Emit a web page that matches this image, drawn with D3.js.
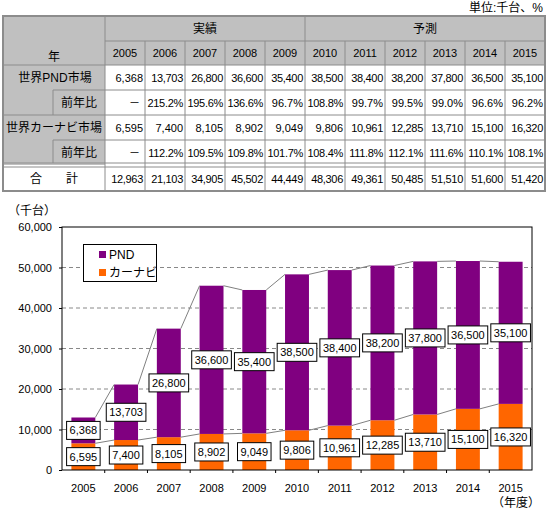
<!DOCTYPE html>
<html>
<head>
<meta charset="utf-8">
<script src="https://cdn.jsdelivr.net/npm/d3@7"></script>
<style>
  body { margin: 0; background: #fff; }
  text { font-family: "Liberation Sans", "Noto Sans CJK JP", sans-serif; }
</style>
</head>
<body>
<svg id="chart" width="548" height="511"></svg>
<script>
// data
const years = [2005, 2006, 2007, 2008, 2009, 2010, 2011, 2012, 2013, 2014, 2015];
const pnd = [6368, 13703, 26800, 36600, 35400, 38500, 38400, 38200, 37800, 36500, 35100];
const pndYoY = ["－", "215.2%", "195.6%", "136.6%", "96.7%", "108.8%", "99.7%", "99.5%", "99.0%", "96.6%", "96.2%"];
const carnav = [6595, 7400, 8105, 8902, 9049, 9806, 10961, 12285, 13710, 15100, 16320];
const carnavYoY = ["－", "112.2%", "109.5%", "109.8%", "101.7%", "108.4%", "111.8%", "112.1%", "111.6%", "110.1%", "108.1%"];
const totals = [12963, 21103, 34905, 45502, 44449, 48306, 49361, 50485, 51510, 51600, 51420];
const groups = [{ name: "実績", from: 0, to: 4 }, { name: "予測", from: 5, to: 10 }];
const yTicks = [0, 10000, 20000, 30000, 40000, 50000, 60000];

const svg = d3.select("#chart");
const fmt = d3.format(",");
const gray = "#c0c0c0";
const lineCol = "#8c8c8c";

// ---------- table ----------
const rowY = [16, 41, 65, 90, 115, 140, 165, 191];
const tx = d3.scaleBand().domain(years).range([105, 545]);
const tbl = svg.append("g");

svg.append("text").attr("x", 543).attr("y", 12).attr("text-anchor", "end")
  .attr("font-size", 12).text("単位:千台、%");

// backgrounds
tbl.append("rect").attr("x", 3).attr("y", 16).attr("width", 542).attr("height", 49).attr("fill", gray);
tbl.append("rect").attr("x", 3).attr("y", 65).attr("width", 102).attr("height", 100).attr("fill", gray);

// grid lines
const hl = (x1, x2, y) => tbl.append("line").attr("x1", x1).attr("x2", x2).attr("y1", y).attr("y2", y)
  .attr("stroke", lineCol).attr("stroke-width", 1);
const vl = (x, y1, y2) => tbl.append("line").attr("x1", x).attr("x2", x).attr("y1", y1).attr("y2", y2)
  .attr("stroke", lineCol).attr("stroke-width", 1);

hl(105, 545, 41);
hl(3, 545, 65);
hl(53, 545, 90);
hl(3, 545, 115);
hl(53, 545, 140);
hl(3, 545, 163);
hl(3, 545, 167);
vl(105, 16, 191);
vl(53, 90, 115);
vl(53, 140, 163);
years.forEach((y, i) => {
  if (i > 0) vl(tx(y), i === 5 ? 16 : 41, 191);
});
tbl.append("rect").attr("x", 3).attr("y", 16).attr("width", 542).attr("height", 175)
  .attr("fill", "none").attr("stroke", lineCol).attr("stroke-width", 2);

// header texts
tbl.append("text").attr("x", 54).attr("y", 61).attr("text-anchor", "middle").attr("font-size", 12).text("年");
groups.forEach(g => {
  const x1 = tx(years[g.from]), x2 = tx(years[g.to]) + tx.bandwidth();
  tbl.append("text").attr("x", (x1 + x2) / 2).attr("y", 33).attr("text-anchor", "middle")
    .attr("font-size", 12).text(g.name);
});
tbl.selectAll(".yh").data(years).enter().append("text")
  .attr("x", d => tx(d) + tx.bandwidth() / 2).attr("y", 57).attr("text-anchor", "middle")
  .attr("font-size", 11).text(d => d);

// row labels
const rowLabels = [
  { t: "世界PND市場", x: 55, y: 82 },
  { t: "前年比", x: 79, y: 107 },
  { t: "世界カーナビ市場", x: 54, y: 132 },
  { t: "前年比", x: 79, y: 157 },
  { t: "合　　計", x: 54, y: 183 }
];
rowLabels.forEach(r => {
  tbl.append("text").attr("x", r.x).attr("y", r.y).attr("text-anchor", "middle")
    .attr("font-size", 12).text(r.t);
});

// data rows
const rows = [
  { vals: pnd.map(fmt), y: 82 },
  { vals: pndYoY, y: 107 },
  { vals: carnav.map(fmt), y: 132 },
  { vals: carnavYoY, y: 157 },
  { vals: totals.map(fmt), y: 183 }
];
rows.forEach(r => {
  tbl.selectAll(null).data(r.vals).enter().append("text")
    .attr("x", (d, i) => tx(years[i]) + tx.bandwidth() - (d === "－" ? 5 : 2))
    .attr("y", r.y).attr("text-anchor", "end").attr("font-size", 11)
    .attr("letter-spacing", d => d.length > 5 ? -0.3 : 0)
    .text(d => d);
});

// ---------- chart ----------
const x = d3.scaleBand().domain(years).range([62, 532]).paddingInner(0.44).paddingOuter(0.22);
const y = d3.scaleLinear().domain([0, 60000]).range([470, 227]);
const chart = svg.append("g");

// gridlines
chart.selectAll(".grid").data(yTicks.filter(d => d > 0 && d < 60000)).enter().append("line")
  .attr("x1", 62).attr("x2", 532).attr("y1", d => y(d)).attr("y2", d => y(d))
  .attr("stroke", "#888").attr("stroke-dasharray", "4,3");

const stackData = years.map((yr, i) => ({ year: yr, carnav: carnav[i], pnd: pnd[i] }));
const series = d3.stack().keys(["carnav", "pnd"])(stackData);
const colors = { carnav: "#ff6600", pnd: "#800080" };

chart.selectAll(".ser").data(series).enter().append("g")
  .attr("fill", d => colors[d.key])
  .selectAll("rect").data(d => d).enter().append("rect")
  .attr("x", d => x(d.data.year)).attr("width", x.bandwidth())
  .attr("y", d => y(d[1])).attr("height", d => y(d[0]) - y(d[1]));

// series lines between bars
series.forEach(s => {
  for (let i = 0; i < s.length - 1; i++) {
    chart.append("line")
      .attr("x1", x(years[i]) + x.bandwidth()).attr("y1", y(s[i][1]))
      .attr("x2", x(years[i + 1])).attr("y2", y(s[i + 1][1]))
      .attr("stroke", "#808080").attr("stroke-width", 1);
  }
});

// plot frame
chart.append("rect").attr("x", 62).attr("y", 227).attr("width", 470).attr("height", 243)
  .attr("fill", "none").attr("stroke", "#000").attr("stroke-width", 1);

// y axis
const yAxis = chart.append("g").attr("transform", "translate(62,0)")
  .call(d3.axisLeft(y).tickValues(yTicks).tickSize(3).tickSizeOuter(0).tickFormat(fmt));
yAxis.select(".domain").remove();
yAxis.selectAll("text").attr("font-size", 11).attr("x", -10).attr("fill", "#000");
yAxis.selectAll("line").attr("stroke", "#000");

// x axis: ticks at category boundaries
chart.selectAll(".xt").data(years.slice(1)).enter().append("line")
  .attr("x1", d => x(d) - x.step() * x.paddingInner() / 2)
  .attr("x2", d => x(d) - x.step() * x.paddingInner() / 2)
  .attr("y1", 470).attr("y2", 473).attr("stroke", "#000");
chart.selectAll(".xl").data(years).enter().append("text")
  .attr("x", d => x(d) + x.bandwidth() / 2).attr("y", 492)
  .attr("text-anchor", "middle").attr("font-size", 11).text(d => d);

svg.append("text").attr("x", 32).attr("y", 215).attr("text-anchor", "middle").attr("font-size", 12).text("（千台）");
svg.append("text").attr("x", 516).attr("y", 507).attr("text-anchor", "middle").attr("font-size", 12).text("（年度）");

// data label boxes
series.forEach(s => {
  s.forEach(d => {
    const cx = x(d.data.year) + x.bandwidth() / 2;
    const cy = y((d[0] + d[1]) / 2);
    const g = chart.append("g");
    const t = g.append("text").attr("x", cx).attr("y", cy + 4).attr("text-anchor", "middle")
      .attr("font-size", 11).text(fmt(d.data[s.key]));
    const w = t.node().getComputedTextLength() + 6;
    g.insert("rect", "text").attr("x", cx - w / 2).attr("y", cy - 9).attr("width", w).attr("height", 18)
      .attr("fill", "#fff").attr("stroke", "#000").attr("stroke-width", 1);
  });
});

// legend
const lg = chart.append("g");
lg.append("rect").attr("x", 83.5).attr("y", 244.5).attr("width", 73).attr("height", 37)
  .attr("fill", "#fff").attr("stroke", "#000");
[["pnd", "PND"], ["carnav", "カーナビ"]].forEach((it, i) => {
  lg.append("rect").attr("x", 99).attr("y", 251 + i * 18).attr("width", 7).attr("height", 7).attr("fill", colors[it[0]]);
  lg.append("text").attr("x", 109).attr("y", 259 + i * 18).attr("font-size", 12).text(it[1]);
});
</script>
</body>
</html>
